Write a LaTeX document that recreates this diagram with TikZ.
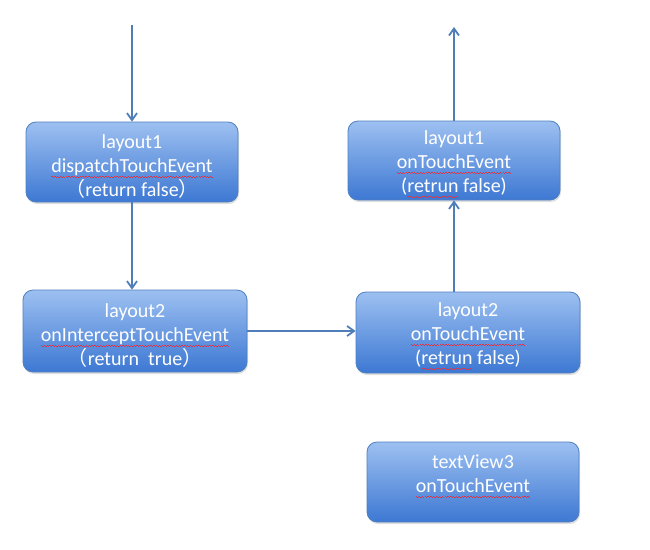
\documentclass[tikz,border=0pt]{standalone}
\usepackage{fontspec}
\setmainfont{Carlito}
\newfontfamily\cjk{Noto Sans CJK SC}
\usetikzlibrary{arrows.meta, shadows}

\definecolor{boxtop}{HTML}{9DC0F1}
\definecolor{boxbot}{HTML}{3D78D3}
\definecolor{boxline}{HTML}{4F80BF}
\definecolor{flowline}{HTML}{4F7DB8}
\definecolor{squiggle}{HTML}{D8344A}

% red spell-check wave under a word
\newcommand{\wave}{\hbox{\raise1pt\hbox{\vrule width1.4pt height1pt}\vrule width1.4pt height1pt}}
\newcommand{\spell}[1]{\setbox0\hbox{#1}%
	\rlap{\lower5.5pt\hbox to\wd0{\color{squiggle}\xleaders\wave\hfil}}\box0\relax}
\newcommand{\lp}{{\cjk （}}
\newcommand{\rp}{{\cjk ）}}
\newcommand{\down}{\mbox{}\\[-2pt]}

\begin{document}
\begin{tikzpicture}[x=1pt, y=-1pt,
	every node/.style={font=\fontsize{20}{24}\selectfont, text=white, align=center},
	handler/.style={draw=boxline, line width=0.8pt, rounded corners=10pt,
		top color=boxtop, bottom color=boxbot, inner sep=0pt,
		drop shadow={opacity=0.25, shadow xshift=1pt, shadow yshift=-2pt}},
	flow/.style={-{Straight Barb[length=7pt, width=10pt, line width=1.8pt]}, draw=flowline, line width=2pt}]
	
	\useasboundingbox (0,0) rectangle (650,549);
	
	% Left column: dispatch and intercept
	\node[handler, minimum width=212pt, minimum height=80pt] (disp1) at (132,162)
		{\down layout1\\\spell{dispatchTouchEvent}\\\lp return false\rp};
	\node[handler, minimum width=224pt, minimum height=82pt] (intercept2) at (135,331)
		{\down layout2\\\spell{onInterceptTouchEvent}\\\lp return\ \ true\rp};
	
	% Right column: touch handling
	\node[handler, minimum width=212pt, minimum height=79pt] (touch1) at (454,160.5)
		{\down layout1\\\spell{onTouchEvent}\\(\spell{retrun} false)};
	\node[handler, minimum width=224pt, minimum height=81pt] (touch2) at (468,332.5)
		{\down layout2\\\spell{onTouchEvent}\\(\spell{retrun} false)};
	\node[handler, minimum width=212pt, minimum height=80pt] (touch3) at (473,482)
		{textView3\\\spell{onTouchEvent}\\[-8pt]\mbox{}};
	
	% Entry and exit
	\coordinate (start) at (132,25);
	\coordinate (finish) at (454,27);
	
	% Event flow
	\draw[flow] (start) -- (disp1);
	\draw[flow] (disp1.south) -- (disp1.south |- intercept2.north);
	\draw[flow] (intercept2.east) -- (intercept2.east -| touch2.west);
	\draw[flow] (touch2.north -| touch1.south) -- (touch1.south);
	\draw[flow] (touch1) -- (finish);
	
\end{tikzpicture}
\end{document}
